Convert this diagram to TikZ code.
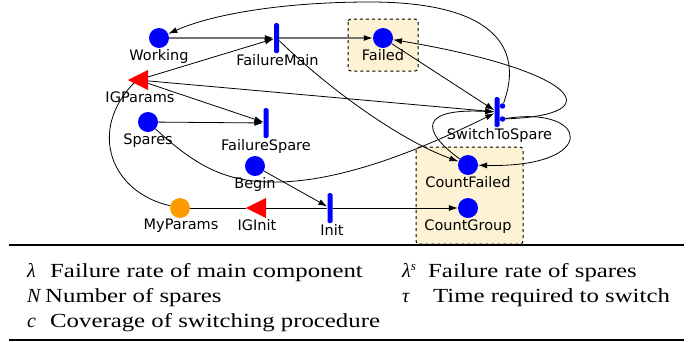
\documentclass[tikz,border=0pt]{standalone}
\usepackage{fontspec}
\usetikzlibrary{arrows.meta,calc}
\newfontfamily\lblfont{DejaVu Sans}
\newfontfamily\legfont[FakeStretch=1.24]{Liberation Serif}
\newfontfamily\symfont{Liberation Serif}
\definecolor{boxfill}{HTML}{FDF3D4}
\definecolor{porange}{HTML}{FF9A00}
\begin{document}
\begin{tikzpicture}[x=1pt,y=-1pt,
  place/.style={circle,fill=blue,minimum size=20pt,inner sep=0pt},
  trans/.style={rectangle,rounded corners=1.5pt,fill=blue,minimum width=5pt,minimum height=30pt,inner sep=0pt},
  gate/.style={rectangle,minimum width=20pt,minimum height=20pt,inner sep=0pt},
  portdot/.style={circle,fill=blue,minimum size=5.5pt,inner sep=0pt},
  lbl/.style={font=\lblfont\fontsize{14.5}{17}\selectfont,inner sep=0pt,anchor=north},
  arc/.style={line width=0.8pt,-{Latex[length=9pt,width=6pt]}},
  plain/.style={line width=0.8pt},
  grayarc/.style={line width=1.3pt,draw=black!55,-{Latex[length=9pt,width=6pt,color=black]}},
  groupbox/.style={fill=boxfill,draw=black,dashed,line width=1pt,rounded corners=3pt},
  rulel/.style={line width=2pt},
  leg/.style={font=\legfont\fontsize{20}{24}\selectfont,inner sep=0pt,anchor=base west},
  legsym/.style={font=\symfont\itshape\fontsize{20}{24}\selectfont,inner sep=0pt,anchor=base west}
]
\useasboundingbox (0,0) rectangle (694,341);
% group boxes
\draw[groupbox] (348,19) rectangle (418,71);
\draw[groupbox] (416,147) rectangle (523,244);
% nodes
\node[place] (Working) at (159,38) {};
\node[trans] (FailureMain) at (276.5,38) {};
\node[place] (Failed) at (383,38) {};
\node[gate] (IGParams) at (138,80) {};
\node[place] (Spares) at (148,122) {};
\node[trans] (FailureSpare) at (266,123) {};
\node[place] (Begin) at (255,166) {};
\node[trans] (SwitchToSpare) at (497,112) {};
\node[portdot] (p1) at (502.5,106) {};
\node[portdot] (p2) at (502.5,119) {};
\node[place] (CountFailed) at (468,165) {};
\node[place] (CountGroup) at (468,208) {};
\node[place,fill=porange] (MyParams) at (180,208) {};
\node[gate] (IGInit) at (256,208) {};
\node[trans] (Init) at (330,208) {};
\fill[red] (IGParams.west) -- (IGParams.north east) -- (IGParams.south east) -- cycle;
\fill[red] (IGInit.west) -- (IGInit.north east) -- (IGInit.south east) -- cycle;
% labels
\node[lbl] at ($(Working.south)+(0,1)$) {Working};
\node[lbl] at ($(FailureMain.south)+(1,1)$) {FailureMain};
\node[lbl] at ($(Failed.south)+(0,1)$) {Failed};
\node[lbl] at ($(IGParams.south)+(2,1.5)$) {IGParams};
\node[lbl] at ($(Spares.south)+(0,1)$) {Spares};
\node[lbl] at ($(FailureSpare.south)+(0,1)$) {FailureSpare};
\node[lbl] at ($(Begin.south)+(0,1)$) {Begin};
\node[lbl] at ($(SwitchToSpare.south)+(2.5,1.5)$) {SwitchToSpare};
\node[lbl] at ($(CountFailed.south)+(0,1)$) {CountFailed};
\node[lbl] at ($(CountGroup.south)+(0,1)$) {CountGroup};
\node[lbl] at ($(MyParams.south)+(1,1)$) {MyParams};
\node[lbl] at ($(IGInit.south)+(1,1)$) {IGInit};
\node[lbl] at ($(Init.south)+(2,1.5)$) {Init};
% connectors
\draw[grayarc] (Working) -- (FailureMain);
\draw[grayarc] (FailureMain) -- (Failed);
\draw[arc] (IGParams) -- (FailureMain);
\draw[arc] (IGParams) -- (FailureSpare);
\draw[arc] (IGParams) -- (SwitchToSpare);
\draw[arc] (Spares) -- (FailureSpare);
\draw[arc] (FailureMain) .. controls (330,90) and (400,140) .. (CountFailed);
\draw[arc] (Failed) -- (SwitchToSpare);
\draw[arc] (p2) .. controls (615,115) and (575,70) .. (Failed);
\draw[arc] (p1) .. controls (525,45) and (490,2) .. (370,2) .. controls (280,2) and (210,15) .. (Working);
\draw[arc] (p2) .. controls (590,105) and (600,168) .. (CountFailed);
\draw[arc] (CountFailed) .. controls (420,130) and (420,108) .. (SwitchToSpare);
\draw[arc] (Spares) .. controls (200,170) and (230,183) .. (280,182) .. controls (350,180) and (430,145) .. (SwitchToSpare);
\draw[plain] (MyParams) .. controls (110,192) and (88,130) .. ($(IGParams.west)!0.3!(IGParams.south east)$);
\draw[plain] (MyParams) -- (IGInit);
\draw[plain] (IGInit) -- (Init);
\draw[arc] (Begin) -- (Init);
\draw[arc] (Init) -- (CountGroup);
% rules
\draw[rulel] (9,245) -- (684,245);
\draw[rulel] (9,339.5) -- (684,339.5);
% legend
\node[legsym] at (27,277) {λ};
\node[leg] at (50,277) {Failure rate of main component};
\node[legsym] at (402,277) {λ\raisebox{7pt}{\fontsize{13}{13}\selectfont s}};
\node[leg] at (428,277) {Failure rate of spares};
\node[legsym] at (27,302) {N};
\node[leg] at (45,302) {Number of spares};
\node[legsym] at (402,302) {τ};
\node[leg] at (433,302) {Time required to switch};
\node[legsym] at (27,327) {c};
\node[leg] at (50,327) {Coverage of switching procedure};
\end{tikzpicture}
\end{document}
